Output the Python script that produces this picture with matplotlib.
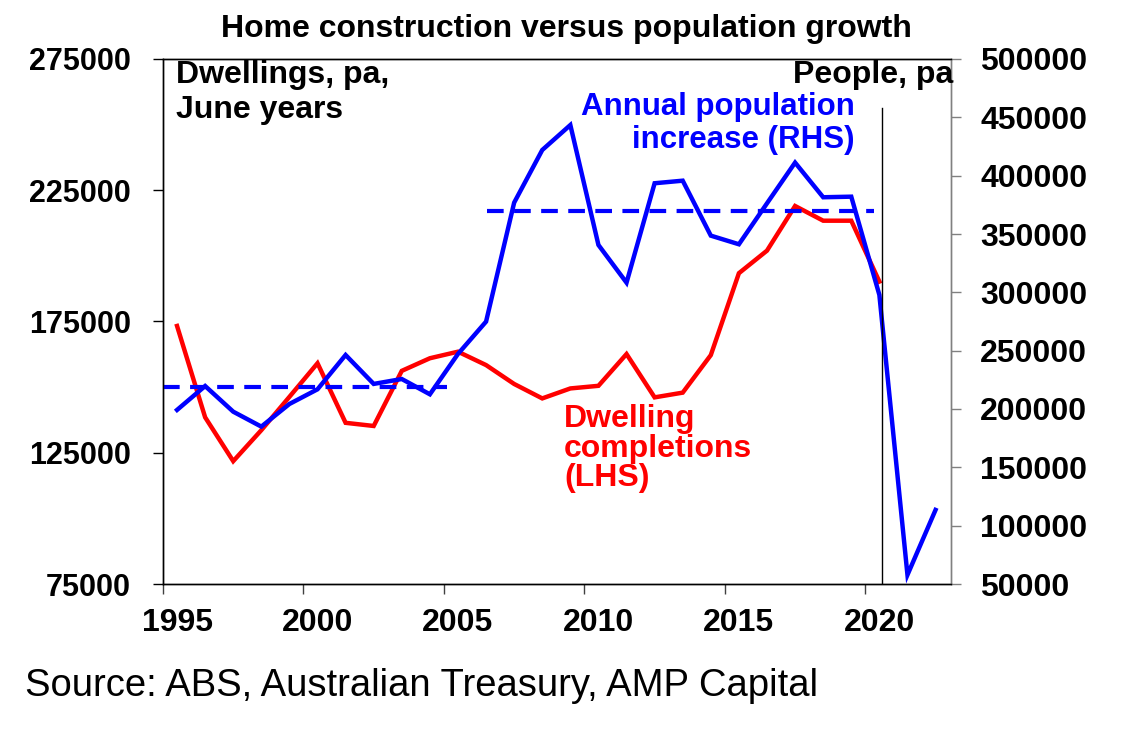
import numpy as np
import matplotlib
matplotlib.use('Agg')
import matplotlib.pyplot as plt

plt.rcParams['font.family'] = ['Liberation Sans', 'DejaVu Sans']

# June years, plotted mid-year
years = np.arange(1995, 2023) + 0.5

# dwelling completions (LHS), ends in 2020
dwellings = [173300, 138500, 121800, 133600, 146300, 159100, 136400, 135200,
             156200, 161000, 163500, 158400, 151200, 145700, 149500, 150500,
             162600, 146100, 147900, 162200, 193400, 202000, 219000, 213400,
             213400, 190200]

# annual population increase (RHS)
population = [199200, 219700, 197700, 184900, 204300, 216900, 246300, 221500,
              225700, 212600, 247200, 274900, 376900, 422000, 443400, 340600,
              308300, 393500, 395700, 348600, 341200, 376300, 411200, 381500,
              382000, 297800, 57800, 113500]

# average population increase before / after 2006
avg1_x = [1995.0, 2005.1]
avg1_y = [219000, 219000]
avg2_x = [2006.55, 2020.3]
avg2_y = [370000, 370000]

forecast_split = 2020.6
split_top = 458000

left_ticks = [75000, 125000, 175000, 225000, 275000]
right_ticks = list(range(50000, 500001, 50000))
x_ticks = [1995, 2000, 2005, 2010, 2015, 2020]
x_labels = ['1995', '2000', '2005', '2010', '2015', '2020']

fig = plt.figure(figsize=(11.3, 7.33), dpi=100)
ax = fig.add_axes([163 / 1130, 1 - 584 / 733, (951 - 163) / 1130, (584 - 59) / 733])
ax2 = ax.twinx()

ax.plot(years[:len(dwellings)], dwellings, color='#ff0000', lw=3.2, solid_joinstyle='miter')
ax2.plot(years, population, color='#0000ff', lw=3.2, solid_joinstyle='miter')
ax2.plot(avg1_x, avg1_y, color='#0000ff', lw=3, linestyle=(0, (4, 2.5)))
ax2.plot(avg2_x, avg2_y, color='#0000ff', lw=3, linestyle=(0, (4, 2.5)))
ax2.plot([forecast_split, forecast_split], [50000, split_top], color='black', lw=1)

ax.set_xlim(1995, 2023.05)
ax.set_ylim(75000, 275000)
ax2.set_ylim(50000, 500000)

# tick marks at the start of the year, labels centred on the June year
ax.set_xticks(x_ticks)
ax.set_xticklabels([])
ax.set_xticks([x + 0.5 for x in x_ticks], minor=True)
ax.set_xticklabels(x_labels, minor=True)
ax.set_yticks(left_ticks)
ax2.set_yticks(right_ticks)

for a in (ax, ax2):
    for s in a.spines.values():
        s.set_linewidth(1)
        s.set_color('black')
    a.spines['right'].set_color('#808080')

ax.tick_params(axis='y', direction='out', length=7, width=1, pad=16, labelsize=22)
ax.tick_params(axis='x', which='major', direction='out', length=7, width=1, color='#404040')
ax.tick_params(axis='x', which='minor', length=0, pad=17, labelsize=23)
ax2.tick_params(axis='y', direction='out', length=7, width=1, color='#808080', pad=14, labelsize=23)
for lab in (ax.get_xticklabels(minor=True) + ax.get_yticklabels()
            + ax2.get_yticklabels()):
    lab.set_fontweight('bold')

fig.text(566 / 1130, 1 - 29 / 733, 'Home construction versus population growth',
         ha='center', va='center', fontsize=23, fontweight='bold')
fig.text(176 / 1130, 1 - 60 / 733, 'Dwellings, pa,\nJune years',
         ha='left', va='top', fontsize=23, fontweight='bold', linespacing=1.22)
fig.text(953 / 1130, 1 - 60 / 733, 'People, pa',
         ha='right', va='top', fontsize=23, fontweight='bold')
fig.text(855 / 1130, 1 - 92 / 733, 'Annual population\nincrease (RHS)',
         ha='right', va='top', fontsize=22.5, fontweight='bold', color='#0000ff',
         multialignment='right', linespacing=1.12)
fig.text(564 / 1130, 1 - 404 / 733, 'Dwelling\ncompletions\n(LHS)',
         ha='left', va='top', fontsize=23, fontweight='bold', color='#ff0000',
         linespacing=0.98)
fig.text(25 / 1130, 1 - 686 / 733, 'Source: ABS, Australian Treasury, AMP Capital',
         ha='left', va='center', fontsize=27.5)

fig.savefig('out.png', dpi=100)
